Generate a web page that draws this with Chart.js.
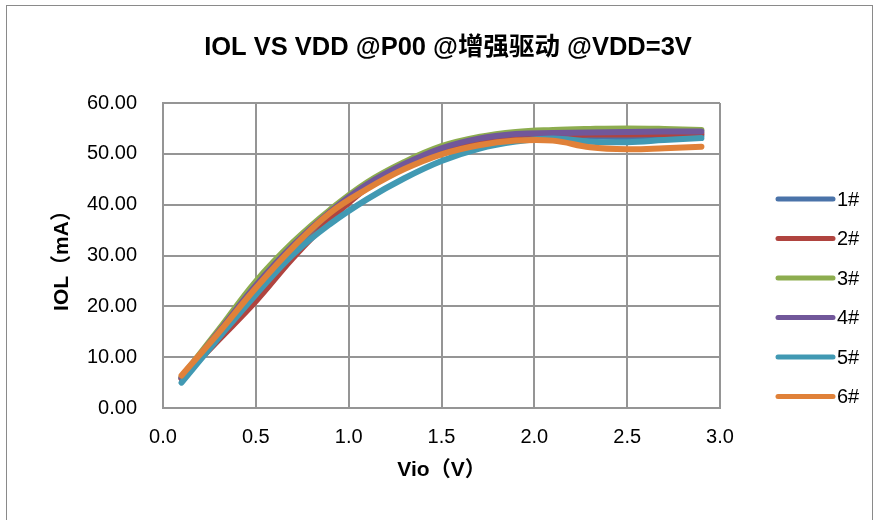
<!DOCTYPE html>
<html>
<head>
<meta charset="utf-8">
<script src="https://cdn.jsdelivr.net/npm/chart.js@4"></script>
<style>
  html, body { margin: 0; padding: 0; background: #fff; }
  #wrap { width: 875px; height: 520px; }
</style>
</head>
<body>
<div id="wrap"><canvas id="iolChart" width="875" height="520"></canvas></div>
<script>
// measured points (Vio in V, IOL in mA)
const vio = [0.1, 0.3, 0.5, 0.7, 0.9, 1.1, 1.3, 1.5, 1.7, 1.9, 2.1, 2.3, 2.5, 2.7, 2.9];
const s1 = [5.8, 14.6, 23.4, 31.4, 38.2, 43.6, 47.6, 50.7, 52.6, 53.3, 53.5, 53.4, 53.3, 53.4, 53.6];
const s2 = [5.8, 13.4, 21.0, 29.5, 37.0, 43.3, 47.6, 50.6, 52.3, 53.2, 53.6, 53.8, 53.8, 53.9, 54.0];
const s3 = [6.1, 15.4, 24.9, 32.6, 39.0, 44.4, 48.4, 51.5, 53.3, 54.3, 54.7, 54.9, 55.0, 54.9, 54.7];
const s4 = [6.0, 15.0, 24.1, 32.0, 38.6, 44.0, 48.0, 51.1, 53.0, 53.9, 54.1, 54.2, 54.3, 54.4, 54.4];
const s5 = [5.0, 13.8, 22.3, 30.2, 36.2, 41.1, 45.2, 48.6, 51.0, 52.4, 53.0, 52.4, 52.3, 52.7, 53.1];
const s6 = [6.4, 14.8, 23.6, 31.6, 38.4, 43.1, 47.0, 49.9, 51.7, 52.6, 52.6, 51.3, 50.9, 51.1, 51.4];

const seriesNames = ['1#', '2#', '3#', '4#', '5#', '6#'];
const seriesData = [s1, s2, s3, s4, s5, s6];
const colors = ['#4A73A9', '#B0443F', '#8DAD4F', '#71579A', '#4199B3', '#E08139'];
const chartTitle = 'IOL VS VDD @P00 @增强驱动 @VDD=3V';

const FONT = "Arial, 'Liberation Sans', 'Noto Sans CJK SC', sans-serif";
const gridColor = '#959595';

const datasets = seriesData.map((vals, i) => ({
  label: seriesNames[i],
  data: vals.map((v, j) => ({ x: vio[j], y: v })),
  borderColor: colors[i],
  backgroundColor: colors[i],
  borderWidth: 6,
  borderCapStyle: 'round',
  borderJoinStyle: 'round',
  pointRadius: 0,
  fill: false,
  tension: 0.4,
  order: seriesNames.length - 1 - i // last series drawn on top, like Excel
}));

// outer frame + title (Excel places the title a bit right of the plot centre)
const framePlugin = {
  id: 'frame',
  beforeDraw(chart) {
    const c = chart.ctx;
    c.save();
    c.fillStyle = '#fff';
    c.fillRect(0, 0, chart.width, chart.height);
    c.strokeStyle = '#8a8a8a';
    c.lineWidth = 1;
    c.strokeRect(6.5, 5.5, chart.width - 9, chart.height + 40);
    c.restore();
  },
  afterDraw(chart) {
    const c = chart.ctx;
    const area = chart.chartArea;
    c.save();
    c.font = 'bold 25.5px ' + FONT;
    c.fillStyle = '#000';
    c.textAlign = 'center';
    c.textBaseline = 'middle';
    c.fillText(chartTitle, (area.left + area.right) / 2 + 6.5, area.top - 55);
    c.restore();
  }
};

// legend on the right: line sample + label
const sideLegend = {
  id: 'sideLegend',
  afterDraw(chart) {
    const c = chart.ctx;
    const area = chart.chartArea;
    const x0 = area.right + 58;
    const y0 = area.top + 96;
    const gap = 39.5;
    c.save();
    c.font = '20px ' + FONT;
    c.textBaseline = 'middle';
    c.textAlign = 'left';
    chart.data.datasets.forEach((ds, i) => {
      const y = y0 + i * gap;
      c.strokeStyle = ds.borderColor;
      c.lineWidth = 5;
      c.lineCap = 'round';
      c.beginPath();
      c.moveTo(x0, y);
      c.lineTo(x0 + 55, y);
      c.stroke();
      c.fillStyle = '#000';
      c.fillText(ds.label, x0 + 59, y + 1);
    });
    c.restore();
  }
};

const chart = new Chart(document.getElementById('iolChart'), {
  type: 'line',
  data: { datasets: datasets },
  options: {
    responsive: false,
    animation: false,
    layout: { padding: { left: 0, right: 155, top: 103, bottom: 0 } },
    plugins: {
      legend: { display: false },
      tooltip: { enabled: false },
      title: { display: false }
    },
    scales: {
      x: {
        type: 'linear',
        min: 0,
        max: 3,
        ticks: {
          stepSize: 0.5,
          color: '#000',
          font: { family: FONT, size: 20 },
          padding: 17,
          maxRotation: 0,
          callback: v => v.toFixed(1)
        },
        grid: { color: gridColor, lineWidth: 2, drawTicks: false },
        border: { color: gridColor, width: 2 },
        title: {
          display: true,
          text: 'Vio（V）',
          color: '#000',
          font: { family: FONT, size: 21, weight: 'bold' },
          padding: { top: 0, bottom: 37 }
        },
        afterFit(scale) { scale.height = 112; }
      },
      y: {
        min: 0,
        max: 60,
        ticks: {
          stepSize: 10,
          color: '#000',
          font: { family: FONT, size: 20 },
          padding: 26,
          callback: v => v.toFixed(2)
        },
        grid: { color: gridColor, lineWidth: 2, drawTicks: false },
        border: { color: gridColor, width: 2 },
        title: {
          display: true,
          text: 'IOL（mA）',
          color: '#000',
          font: { family: FONT, size: 21, weight: 'bold' },
          padding: { top: 50, bottom: 0 }
        },
        afterFit(scale) { scale.width = 163; }
      }
    }
  },
  plugins: [framePlugin, sideLegend]
});
</script>
</body>
</html>
